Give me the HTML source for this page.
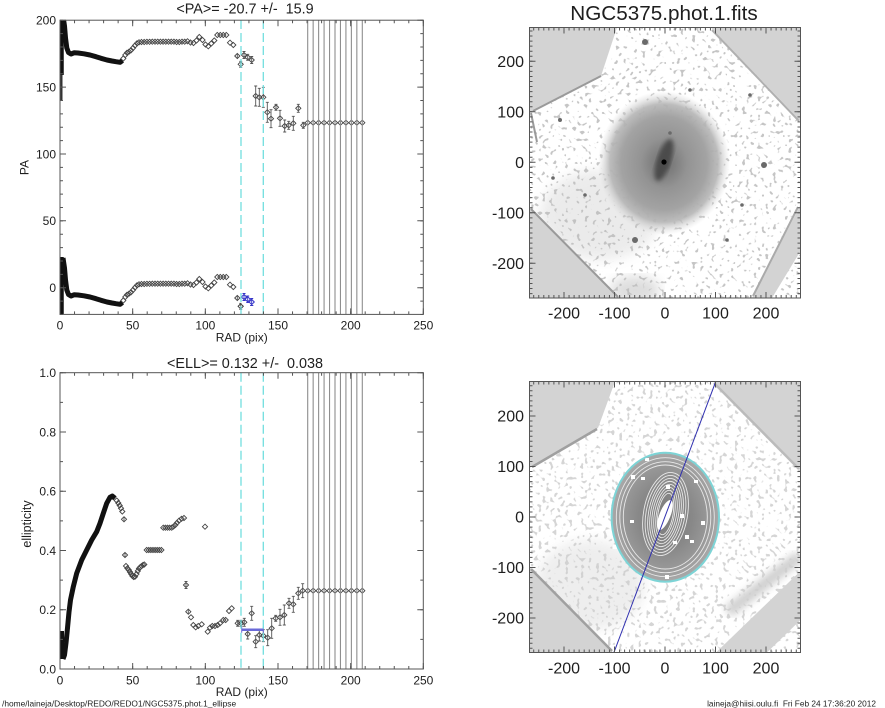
<!DOCTYPE html>
<html><head><meta charset="utf-8">
<style>
html,body{margin:0;padding:0;background:#fff;}
svg{display:block;}
text{font-family:"Liberation Sans",Arial,sans-serif;fill:#1e1e1e;}
</style></head><body>
<svg width="885" height="708" viewBox="0 0 885 708" xmlns="http://www.w3.org/2000/svg">
<defs>
<path id="m" d="M0,-2.6L2.6,0L0,2.6L-2.6,0Z" fill="none" stroke="#444" stroke-width="0.9"/>
<path id="mb" d="M0,-2.6L2.6,0L0,2.6L-2.6,0Z" fill="none" stroke="#3434c8" stroke-width="1"/>
<clipPath id="c1"><rect x="60" y="20.2" width="363.3" height="294.2"/></clipPath>
<clipPath id="c2"><rect x="60" y="372.7" width="363.3" height="296.3"/></clipPath>
<clipPath id="ci1"><rect x="529.5" y="27.5" width="271" height="270.5"/></clipPath>
<clipPath id="ci2"><rect x="529.5" y="381.5" width="271" height="271"/></clipPath>
<filter id="spk" x="0" y="0" width="1" height="1">
 <feTurbulence type="fractalNoise" baseFrequency="0.26" numOctaves="1" seed="7"/>
 <feColorMatrix type="matrix" values="0 0 0 0 0.5  0 0 0 0 0.5  0 0 0 0 0.5  14 0 0 0 -8.5"/>
</filter>
<filter id="spk2" x="0" y="0" width="1" height="1">
 <feTurbulence type="fractalNoise" baseFrequency="0.26" numOctaves="1" seed="3"/>
 <feColorMatrix type="matrix" values="0 0 0 0 0.62  0 0 0 0 0.62  0 0 0 0 0.62  14 0 0 0 -8.3"/>
</filter>
<filter id="bl2"><feGaussianBlur stdDeviation="2"/></filter>
<filter id="bl4"><feGaussianBlur stdDeviation="4"/></filter>
<filter id="bl6"><feGaussianBlur stdDeviation="6"/></filter>
<radialGradient id="gh">
 <stop offset="0" stop-color="#5a5a5a"/>
 <stop offset="0.12" stop-color="#7a7a7a"/>
 <stop offset="0.35" stop-color="#939393"/>
 <stop offset="0.65" stop-color="#a3a3a3"/>
 <stop offset="0.82" stop-color="#b5b5b5" stop-opacity="0.9"/>
 <stop offset="1" stop-color="#d8d8d8" stop-opacity="0"/>
</radialGradient>
<radialGradient id="gd">
 <stop offset="0" stop-color="#7c7c7c"/>
 <stop offset="0.5" stop-color="#888"/>
 <stop offset="0.8" stop-color="#989898"/>
 <stop offset="1" stop-color="#aaa"/>
</radialGradient>
</defs>

<!-- ================= TOP LEFT PLOT (PA) ================= -->
<text x="245" y="13.5" font-size="14.4" text-anchor="middle" style="white-space:pre">&lt;PA&gt;= -20.7 +/-  15.9</text>
<g clip-path="url(#c1)">
 <g id="upb">
  <path d="M62,15V75" stroke="#111" stroke-width="3.5"/>
  <path d="M61.5,75V100" stroke="#333" stroke-width="2"/>
  <polyline points="63,16 64.5,26 65.5,38 66.8,48 68.5,52.5 71,54 74,52.8 78,53 84,53.8 90,55 96,56.7 101,58.3 107,60 112,61 116,61.7 120,62.3 122.5,60.5" fill="none" stroke="#111" stroke-width="5" stroke-linejoin="round"/>
  <g>
   <use href="#m" x="123.3" y="58.5"/><use href="#m" x="125.3" y="55"/><use href="#m" x="127" y="52.8"/><use href="#m" x="129" y="51.7"/><use href="#m" x="131" y="50.3"/><use href="#m" x="133" y="48"/><use href="#m" x="135" y="45.5"/><use href="#m" x="137" y="43.3"/><use href="#m" x="139" y="42.3"/>
   <use href="#m" x="141.5" y="42"/><use href="#m" x="144.2" y="42"/><use href="#m" x="146.9" y="41.8"/><use href="#m" x="149.6" y="41.8"/><use href="#m" x="152.3" y="41.7"/><use href="#m" x="155" y="41.7"/><use href="#m" x="157.7" y="41.7"/><use href="#m" x="160.4" y="41.7"/><use href="#m" x="163.1" y="41.7"/><use href="#m" x="165.8" y="41.7"/><use href="#m" x="168.5" y="41.7"/><use href="#m" x="171.2" y="41.7"/><use href="#m" x="173.9" y="41.7"/><use href="#m" x="176.6" y="42"/><use href="#m" x="179.3" y="42"/><use href="#m" x="182" y="41.7"/><use href="#m" x="184.7" y="41.7"/>
   <use href="#m" x="187.5" y="41.3"/><use href="#m" x="190.5" y="42.5"/><use href="#m" x="193.5" y="43"/><use href="#m" x="196.5" y="40.5"/><use href="#m" x="199.3" y="37"/><use href="#m" x="202.5" y="40"/><use href="#m" x="205.5" y="44.5"/><use href="#m" x="208.3" y="46.3"/><use href="#m" x="211.3" y="43.5"/><use href="#m" x="214.3" y="40.5"/><use href="#m" x="217.3" y="35"/><use href="#m" x="220.3" y="35"/><use href="#m" x="223.3" y="35"/><use href="#m" x="226.3" y="35"/><use href="#m" x="230" y="42.7"/><use href="#m" x="233.3" y="45"/>
   <use href="#m" x="237.3" y="56"/><use href="#m" x="240.7" y="64.3"/><use href="#m" x="244" y="55"/><use href="#m" x="247.7" y="57.3"/><use href="#m" x="251.7" y="60"/><use href="#m" x="255.7" y="96"/><use href="#m" x="259.3" y="97.3"/><use href="#m" x="263.3" y="97.3"/><use href="#m" x="267.3" y="112.3"/><use href="#m" x="271" y="118.7"/><use href="#m" x="276" y="107.3"/><use href="#m" x="280" y="118.3"/><use href="#m" x="284.7" y="126"/><use href="#m" x="288.7" y="125.3"/><use href="#m" x="293.3" y="123.3"/><use href="#m" x="298.3" y="108.3"/><use href="#m" x="303.3" y="125.3"/>
   <use href="#m" x="307.7" y="122.7"/><use href="#m" x="313.16" y="122.7"/><use href="#m" x="318.62" y="122.7"/><use href="#m" x="324.08" y="122.7"/><use href="#m" x="329.54" y="122.7"/><use href="#m" x="335" y="122.7"/><use href="#m" x="340.46" y="122.7"/><use href="#m" x="345.92" y="122.7"/><use href="#m" x="351.38" y="122.7"/><use href="#m" x="356.84" y="122.7"/><use href="#m" x="362.3" y="122.7"/>
  </g>
  <path fill="none" stroke="#555" stroke-width="0.9" d="M237.3,54V58 M240.7,61.3V67.3M239.2,61.3h3M239.2,67.3h3 M244,51.5V58.5M242.5,51.5h3M242.5,58.5h3 M247.7,54.3V60.3M246.2,54.3h3M246.2,60.3h3 M251.7,56.5V63.5M250.2,56.5h3M250.2,63.5h3 M255.7,86V106M254.2,86h3M254.2,106h3 M259.3,88.3V106.3M257.8,88.3h3M257.8,106.3h3 M263.3,87.3V107.3M261.8,87.3h3M261.8,107.3h3 M267.3,102.3V122.3M265.8,102.3h3M265.8,122.3h3 M271,109.7V127.7M269.5,109.7h3M269.5,127.7h3 M276,104.3V110.3M274.5,104.3h3M274.5,110.3h3 M280,110.3V126.3M278.5,110.3h3M278.5,126.3h3 M284.7,120V132M283.2,120h3M283.2,132h3 M288.7,121.3V129.3M287.2,121.3h3M287.2,129.3h3 M293.3,116.3V130.3M291.8,116.3h3M291.8,130.3h3 M298.3,104.3V112.3M296.8,104.3h3M296.8,112.3h3 M303.3,122.3V128.3M301.8,122.3h3M301.8,128.3h3"/>
 </g>
 <use href="#upb" transform="translate(0,242)"/>
 <g>
  <rect x="241.5" y="291" width="13.5" height="14" fill="#fff"/>
  <use href="#m" x="240.7" y="306.3"/>
  <use href="#mb" x="244" y="297"/><use href="#mb" x="247.7" y="299.3"/><use href="#mb" x="251.7" y="302"/>
  <path fill="none" stroke="#3434c8" stroke-width="0.9" d="M244,293.5V300.5M242.5,293.5h3M242.5,300.5h3 M247.7,296V302.6M246.2,296h3M246.2,302.6h3 M251.7,298.5V305.5M250.2,298.5h3M250.2,305.5h3"/>
 </g>
 <path stroke="#8e8e8e" stroke-width="1.1" d="M307.7,20V315M313.16,20V315M318.62,20V315M324.08,20V315M329.54,20V315M335,20V315M340.46,20V315M345.92,20V315M351.38,20V315M356.84,20V315M362.3,20V315"/>
 <path stroke="#72dede" stroke-width="1.3" stroke-dasharray="9,4" d="M241,20V315M263.3,20V315"/>
</g>
<rect x="60" y="20.2" width="363.3" height="294.2" fill="none" stroke="#555" stroke-width="1"/>
<g stroke="#555" fill="none">
 <path stroke-width="3" stroke-dasharray="1 13.533" d="M59.5,312.9H424M59.5,21.7H424"/>
 <path stroke-width="3" stroke-dasharray="1 12.375" d="M61.5,19.7V315M421.8,19.7V315"/>
 <path stroke-width="1" d="M60,314.4v-6M132.67,314.4v-6M205.33,314.4v-6M278,314.4v-6M350.67,314.4v-6M423.33,314.4v-6M60,20.2v6M132.67,20.2v6M205.33,20.2v6M278,20.2v6M350.67,20.2v6M423.33,20.2v6 M60,287.7h6M60,220.8h6M60,154h6M60,87.1h6M60,20.2h6M423.3,287.7h-6M423.3,220.8h-6M423.3,154h-6M423.3,87.1h-6M423.3,20.2h-6"/>
</g>
<g font-size="12" text-anchor="middle">
 <text x="60" y="329.5">0</text><text x="132.67" y="329.5">50</text><text x="205.33" y="329.5">100</text><text x="278" y="329.5">150</text><text x="350.67" y="329.5">200</text><text x="423.33" y="329.5">250</text>
 <text x="241.7" y="341.5">RAD (pix)</text>
</g>
<g font-size="12" text-anchor="end">
 <text x="56" y="24.5">200</text><text x="56" y="91.4">150</text><text x="56" y="158.3">100</text><text x="56" y="225.1">50</text><text x="56" y="292">0</text>
</g>
<text font-size="12" text-anchor="middle" transform="translate(28.5,167.5) rotate(-90)">PA</text>

<!-- ================= BOTTOM LEFT PLOT (ELL) ================= -->
<text x="245" y="368" font-size="14.4" text-anchor="middle" style="white-space:pre">&lt;ELL&gt;= 0.132 +/-  0.038</text>
<g clip-path="url(#c2)">
 <path d="M62,631V659" stroke="#111" stroke-width="4"/>
 <polyline points="63,659 64.5,655 66,643 67.5,628 69,612 70.5,600 73.3,586.7 76.7,573.3 81.7,560 86.7,550 91.7,540 96.7,531.7 100,523.3 103.3,513.3 106.7,503.3 110,497.3 112.3,496 115,498.3" fill="none" stroke="#111" stroke-width="5" stroke-linejoin="round"/>
 <g>
  <use href="#m" x="116.7" y="500.5"/><use href="#m" x="118.3" y="503"/><use href="#m" x="119.7" y="505.5"/><use href="#m" x="121" y="508.3"/><use href="#m" x="122.3" y="511.5"/><use href="#m" x="124" y="519.3"/>
  <use href="#m" x="125" y="555"/><use href="#m" x="126" y="566"/><use href="#m" x="127.4" y="568.3"/><use href="#m" x="128.8" y="570"/><use href="#m" x="130" y="572"/><use href="#m" x="131.2" y="574"/><use href="#m" x="132.4" y="576"/><use href="#m" x="133.7" y="577"/><use href="#m" x="135" y="576.7"/><use href="#m" x="136.5" y="574"/><use href="#m" x="137.8" y="571"/><use href="#m" x="139" y="568.5"/><use href="#m" x="140.3" y="567"/><use href="#m" x="141.7" y="566"/><use href="#m" x="143" y="565"/><use href="#m" x="144.3" y="564.5"/>
  <use href="#m" x="146.7" y="550"/><use href="#m" x="148.8" y="550"/><use href="#m" x="150.9" y="550"/><use href="#m" x="153" y="550"/><use href="#m" x="155.1" y="550"/><use href="#m" x="157.2" y="550"/><use href="#m" x="159.3" y="550"/><use href="#m" x="161.4" y="550"/>
  <use href="#m" x="163.3" y="527.7"/><use href="#m" x="165.4" y="527.7"/><use href="#m" x="167.5" y="527.7"/><use href="#m" x="169.6" y="527.7"/><use href="#m" x="171.7" y="527.7"/><use href="#m" x="173.5" y="526.5"/><use href="#m" x="175.3" y="525"/><use href="#m" x="177" y="522.8"/><use href="#m" x="179" y="520.7"/><use href="#m" x="181.5" y="518.8"/><use href="#m" x="184" y="518"/>
  <use href="#m" x="205" y="526.7"/><use href="#m" x="186" y="585"/>
  <use href="#m" x="188.3" y="611.7"/><use href="#m" x="191" y="617.3"/><use href="#m" x="193.3" y="625"/><use href="#m" x="195.7" y="627.3"/><use href="#m" x="198.3" y="626"/><use href="#m" x="201.7" y="624.3"/>
  <use href="#m" x="207.7" y="631.7"/><use href="#m" x="210" y="627.7"/><use href="#m" x="212.3" y="626"/><use href="#m" x="215" y="626"/><use href="#m" x="217.7" y="625"/><use href="#m" x="220" y="623.3"/><use href="#m" x="223.3" y="620"/><use href="#m" x="225.7" y="620"/><use href="#m" x="229" y="611"/><use href="#m" x="231.7" y="608.3"/>
  <use href="#m" x="237.7" y="623.3"/><use href="#m" x="241" y="623.3"/><use href="#m" x="244.3" y="622.3"/><use href="#m" x="247.7" y="634"/><use href="#m" x="251.7" y="613.3"/><use href="#m" x="255.7" y="641.7"/><use href="#m" x="259.3" y="635"/><use href="#m" x="263.3" y="635.7"/><use href="#m" x="267.7" y="637.7"/><use href="#m" x="271.7" y="628.3"/><use href="#m" x="275.7" y="618.3"/><use href="#m" x="280" y="617.3"/><use href="#m" x="284.3" y="615"/><use href="#m" x="289" y="603.3"/><use href="#m" x="293.3" y="604.3"/><use href="#m" x="298.3" y="593.3"/><use href="#m" x="302.7" y="590.7"/>
  <use href="#m" x="307.7" y="590.7"/><use href="#m" x="313.16" y="590.7"/><use href="#m" x="318.62" y="590.7"/><use href="#m" x="324.08" y="590.7"/><use href="#m" x="329.54" y="590.7"/><use href="#m" x="335" y="590.7"/><use href="#m" x="340.46" y="590.7"/><use href="#m" x="345.92" y="590.7"/><use href="#m" x="351.38" y="590.7"/><use href="#m" x="356.84" y="590.7"/><use href="#m" x="362.3" y="590.7"/>
 </g>
 <path fill="none" stroke="#555" stroke-width="0.9" d="M124,517V521.6 M125,552.5V557.5 M186,581.5V588.5M184.5,581.5h3M184.5,588.5h3 M188.3,609.7V613.7 M237.7,620.3V626.3M236.2,620.3h3M236.2,626.3h3 M241,620.3V626.3M239.5,620.3h3M239.5,626.3h3 M244.3,618.3V626.3M242.8,618.3h3M242.8,626.3h3 M247.7,629V639M246.2,629h3M246.2,639h3 M251.7,606.3V620.3M250.2,606.3h3M250.2,620.3h3 M255.7,635.7V647.7M254.2,635.7h3M254.2,647.7h3 M259.3,629V641M257.8,629h3M257.8,641h3 M263.3,629.7V641.7M261.8,629.7h3M261.8,641.7h3 M267.7,629.7V645.7M266.2,629.7h3M266.2,645.7h3 M271.7,618.3V638.3M270.2,618.3h3M270.2,638.3h3 M275.7,615.3V621.3M274.2,615.3h3M274.2,621.3h3 M280,609.3V625.3M278.5,609.3h3M278.5,625.3h3 M284.3,605V625M282.8,605h3M282.8,625h3 M289,598.3V608.3M287.5,598.3h3M287.5,608.3h3 M293.3,596.3V612.3M291.8,596.3h3M291.8,612.3h3 M298.3,587.3V599.3M296.8,587.3h3M296.8,599.3h3 M302.7,583.7V597.7M301.2,583.7h3M301.2,597.7h3"/>
 <path stroke="#6a6ad8" stroke-width="2.5" d="M241.7,629.7H263.3"/>
 <path stroke="#6a6ad8" stroke-width="1" d="M241.7,626.7v6M263.3,626.7v6"/>
 <path stroke="#8e8e8e" stroke-width="1.1" d="M307.7,372V670M313.16,372V670M318.62,372V670M324.08,372V670M329.54,372V670M335,372V670M340.46,372V670M345.92,372V670M351.38,372V670M356.84,372V670M362.3,372V670"/>
 <path stroke="#72dede" stroke-width="1.3" stroke-dasharray="9,4" d="M241,372.7V670M263.3,372.7V670"/>
</g>
<rect x="60" y="372.7" width="363.3" height="296.3" fill="none" stroke="#555" stroke-width="1"/>
<g stroke="#555" fill="none">
 <path stroke-width="3" stroke-dasharray="1 13.533" d="M59.5,667.5H424M59.5,374.2H424"/>
 <path stroke-width="3" stroke-dasharray="1 28.63" d="M61.5,372.2V670M421.8,372.2V670"/>
 <path stroke-width="1" d="M60,669v-6M132.67,669v-6M205.33,669v-6M278,669v-6M350.67,669v-6M423.33,669v-6M60,372.7v6M132.67,372.7v6M205.33,372.7v6M278,372.7v6M350.67,372.7v6M423.33,372.7v6 M60,669h6M60,609.7h6M60,550.5h6M60,491.2h6M60,432h6M60,372.7h6M423.3,669h-6M423.3,609.7h-6M423.3,550.5h-6M423.3,491.2h-6M423.3,432h-6M423.3,372.7h-6"/>
</g>
<g font-size="12" text-anchor="middle">
 <text x="60" y="684.3">0</text><text x="132.67" y="684.3">50</text><text x="205.33" y="684.3">100</text><text x="278" y="684.3">150</text><text x="350.67" y="684.3">200</text><text x="423.33" y="684.3">250</text>
 <text x="241.7" y="696">RAD (pix)</text>
</g>
<g font-size="12" text-anchor="end">
 <text x="56" y="377">1.0</text><text x="56" y="436.3">0.8</text><text x="56" y="495.5">0.6</text><text x="56" y="554.8">0.4</text><text x="56" y="614">0.2</text><text x="56" y="673.3">0.0</text>
</g>
<text font-size="12.5" text-anchor="middle" transform="translate(31,524) rotate(-90)">ellipticity</text>

<!-- ================= TOP RIGHT IMAGE ================= -->
<text x="664" y="20" font-size="20.7" text-anchor="middle">NGC5375.phot.1.fits</text>
<g clip-path="url(#ci1)">
 <rect x="529.5" y="27.5" width="271" height="270.5" fill="#fff"/>
 <ellipse cx="600" cy="215" rx="60" ry="45" fill="#c8c8c8" opacity="0.35" filter="url(#bl6)"/>
 <ellipse cx="635" cy="290" rx="25" ry="14" fill="#bbb" opacity="0.5" filter="url(#bl6)"/>
 <rect x="529.5" y="27.5" width="271" height="270.5" filter="url(#spk)" opacity="0.85"/>
 <ellipse cx="664" cy="163" rx="66" ry="72" fill="url(#gh)"/>
 <ellipse cx="664" cy="160" rx="7" ry="22" fill="#4c4c4c" transform="rotate(18 664 160)" filter="url(#bl2)"/>
 <circle cx="664" cy="162" r="2.6" fill="#000"/>
 <g fill="#6a6a6a">
  <circle cx="645" cy="42" r="3"/><circle cx="764" cy="165" r="3"/><circle cx="635" cy="240" r="3"/><circle cx="670" cy="133" r="1.8"/><circle cx="607" cy="45" r="1.8"/><circle cx="560" cy="120" r="2"/><circle cx="727" cy="240" r="1.8"/><circle cx="750" cy="95" r="1.8"/><circle cx="690" cy="90" r="1.8"/><circle cx="742" cy="205" r="1.8"/><circle cx="585" cy="195" r="1.8"/><circle cx="553" cy="178" r="1.8"/>
 </g>
 <g fill="#d3d3d3">
  <polygon points="529.5,27.5 617,27.5 601,76 529.5,113"/>
  <polygon points="711,27.5 800.5,27.5 800.5,121"/>
  <polygon points="800.5,205 800.5,251 772,298 752,298"/>
  <polygon points="529.5,207 529.5,298 619,298"/>
 </g>
 <g fill="none" stroke="#9a9a9a" stroke-width="2">
  <path d="M533,111L601,76"/>
  <path d="M531,113L537,142"/>
  <path d="M531,209L618,297"/>
  <path d="M712,30L799,121" stroke="#b0b0b0"/>
  <path d="M798,207L753,296" stroke="#aaa"/>
 </g>
</g>
<rect x="529.5" y="27.5" width="271" height="270.5" fill="none" stroke="#555" stroke-width="1"/>
<g stroke="#555" fill="none">
 <path stroke-width="3" stroke-dasharray="1 4.05" d="M533.2,29H800M533.2,296.5H800"/>
 <path stroke-width="3" stroke-dasharray="1 4.05" d="M531,30.5V297M799,30.5V297"/>
 <path stroke-width="1" d="M564,298v-6M614.5,298v-6M665,298v-6M715.5,298v-6M766,298v-6M564,27.5v6M614.5,27.5v6M665,27.5v6M715.5,27.5v6M766,27.5v6 M529.5,61.3h6M529.5,111.8h6M529.5,162.3h6M529.5,212.8h6M529.5,263.3h6M800.5,61.3h-6M800.5,111.8h-6M800.5,162.3h-6M800.5,212.8h-6M800.5,263.3h-6"/>
</g>
<g font-size="16" text-anchor="end">
 <text x="524" y="67">200</text><text x="524" y="117.5">100</text><text x="524" y="168">0</text><text x="524" y="218.5">-100</text><text x="524" y="269">-200</text>
</g>
<g font-size="16" text-anchor="middle">
 <text x="564" y="318.3">-200</text><text x="614.5" y="318.3">-100</text><text x="665" y="318.3">0</text><text x="715.5" y="318.3">100</text><text x="766" y="318.3">200</text>
</g>

<!-- ================= BOTTOM RIGHT IMAGE ================= -->
<g clip-path="url(#ci2)">
 <rect x="529.5" y="381.5" width="271" height="271" fill="#fff"/>
 <ellipse cx="590" cy="585" rx="55" ry="45" fill="#c8c8c8" opacity="0.3" filter="url(#bl6)"/>
 <path d="M800,556L728,612" stroke="#a8a8a8" stroke-width="12" opacity="0.55" filter="url(#bl4)"/>
 <rect x="529.5" y="381.5" width="271" height="271" filter="url(#spk2)" opacity="0.85"/>
 <ellipse cx="665.3" cy="517.2" rx="53.7" ry="64.5" fill="url(#gd)"/>
 <g fill="none" stroke="#e8e8e8" stroke-width="0.9">
  <ellipse cx="665.3" cy="517.2" rx="49" ry="59.5"/>
  <ellipse cx="665.3" cy="517.2" rx="45.5" ry="55.5"/>
  <ellipse cx="665.3" cy="517" rx="42" ry="52"/>
  <g transform="rotate(10 665.5 514)">
   <ellipse cx="665.5" cy="514" rx="22" ry="42"/>
   <ellipse cx="665.5" cy="514" rx="19.5" ry="39"/>
   <ellipse cx="665.5" cy="514" rx="17" ry="36"/>
   <ellipse cx="665.5" cy="514" rx="15" ry="33"/>
   <ellipse cx="665.5" cy="514" rx="13" ry="30"/>
   <ellipse cx="665.5" cy="514" rx="11" ry="27"/>
   <ellipse cx="665.5" cy="514" rx="9" ry="24"/>
   <ellipse cx="665.5" cy="514" rx="7.5" ry="21"/>
  </g>
 </g>
 <ellipse cx="665" cy="515" rx="5.5" ry="16" fill="#fff" transform="rotate(22 665 515)"/>
 <g fill="#fff">
  <rect x="631" y="475" width="4" height="4"/><rect x="641" y="477" width="4" height="3"/><rect x="666" y="485" width="4" height="4"/><rect x="630" y="520" width="4" height="3"/><rect x="680" y="514" width="4" height="4"/><rect x="685" y="535" width="4" height="4"/><rect x="673" y="541" width="4" height="3"/><rect x="701" y="521" width="4" height="4"/><rect x="694" y="480" width="4" height="3"/><rect x="613" y="545" width="4" height="4"/><rect x="665" y="575" width="4" height="4"/><rect x="645" y="458" width="4" height="3"/><rect x="690" y="540" width="4" height="3"/>
 </g>
 <ellipse cx="665.3" cy="517.2" rx="53.7" ry="64.5" fill="none" stroke="#7dd4d6" stroke-width="2"/>
 <g fill="#d3d3d3">
  <polygon points="529.5,381.5 615,381.5 598,428 529.5,468"/>
  <polygon points="713,381.5 800.5,381.5 800.5,470"/>
  <polygon points="800.5,571 800.5,620 767,652.5 716,652.5"/>
  <polygon points="529.5,567 529.5,652.5 613,652.5"/>
 </g>
 <g fill="none" stroke="#a0a0a0" stroke-width="2.5">
  <path d="M532,467L597,429"/>
  <path d="M531,569L612,651"/>
  <path d="M714,383L799,469" stroke="#bbb"/>
 </g>
 <path d="M614,652.3L715.7,381.7" stroke="#3030b0" stroke-width="1"/>
</g>
<rect x="529.5" y="381.5" width="271" height="271" fill="none" stroke="#555" stroke-width="1"/>
<g stroke="#555" fill="none">
 <path stroke-width="3" stroke-dasharray="1 4.05" d="M533.2,383H800M533.2,651H800"/>
 <path stroke-width="3" stroke-dasharray="1 4.05" d="M531,385.2V652M799,385.2V652"/>
 <path stroke-width="1" d="M564,652.5v-6M614.5,652.5v-6M665,652.5v-6M715.5,652.5v-6M766,652.5v-6M564,381.5v6M614.5,381.5v6M665,381.5v6M715.5,381.5v6M766,381.5v6 M529.5,416h6M529.5,466.5h6M529.5,517h6M529.5,567.5h6M529.5,618h6M800.5,416h-6M800.5,466.5h-6M800.5,517h-6M800.5,567.5h-6M800.5,618h-6"/>
</g>
<g font-size="16" text-anchor="end">
 <text x="524" y="421.7">200</text><text x="524" y="472.2">100</text><text x="524" y="522.7">0</text><text x="524" y="573.2">-100</text><text x="524" y="623.7">-200</text>
</g>
<g font-size="16" text-anchor="middle">
 <text x="564" y="673.3">-200</text><text x="614.5" y="673.3">-100</text><text x="665" y="673.3">0</text><text x="715.5" y="673.3">100</text><text x="766" y="673.3">200</text>
</g>

<!-- footer -->
<text x="2" y="706.3" font-size="8.4">/home/laineja/Desktop/REDO/REDO1/NGC5375.phot.1_ellipse</text>
<text x="876" y="706.3" font-size="8.3" text-anchor="end" style="white-space:pre">laineja@hiisi.oulu.fi  Fri Feb 24 17:36:20 2012</text>
</svg>
</body></html>
